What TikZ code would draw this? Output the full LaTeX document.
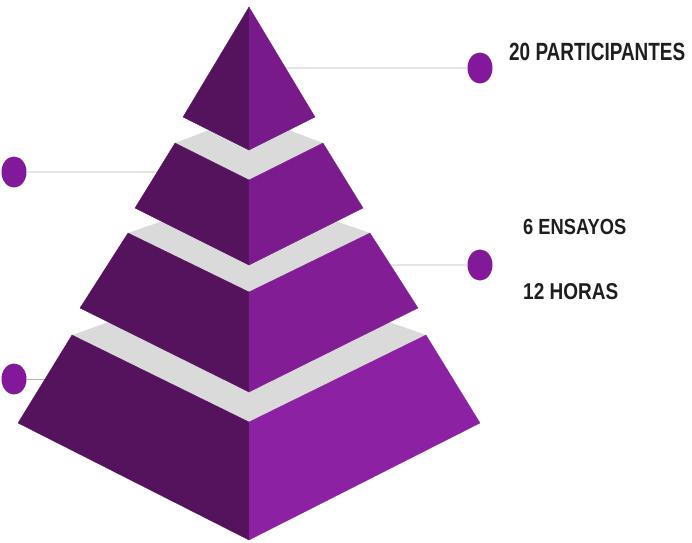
\documentclass[tikz,border=0pt]{standalone}
\usepackage{fontspec}
\usepackage{graphicx}
\setmainfont{Liberation Sans}
\usetikzlibrary{shapes.geometric,calc}
\definecolor{leftface}{HTML}{55135E}
\definecolor{rightA}{HTML}{781A8A}
\definecolor{rightB}{HTML}{7C1B8E}
\definecolor{rightC}{HTML}{831D96}
\definecolor{rightD}{HTML}{8D21A3}
\definecolor{bandgray}{HTML}{DADADA}
\definecolor{dotpurple}{HTML}{82199A}
\definecolor{leadgray}{HTML}{B4B4B4}
\definecolor{textdark}{HTML}{1E1E1E}
\begin{document}
\begin{tikzpicture}[x=1pt,y=-1pt,
  dot/.style={ellipse, fill=dotpurple, minimum width=25pt, minimum height=31pt, inner sep=0pt},
  leader/.style={draw=leadgray, line width=0.9pt},
  lbl/.style={anchor=base west, inner sep=0pt, text=textdark, font=\bfseries},
  band/.style={fill=bandgray},
  lface/.style={fill=leftface, draw=leftface, line width=0.3pt},
  rface/.style={fill=#1, draw=#1, line width=0.3pt}]
\useasboundingbox (0,0) rectangle (692,542);
% ---- coordinates
% tier 1
\coordinate (a1) at (249,7);
\coordinate (l1) at (183,117);
\coordinate (r1) at (315,117);
\coordinate (f1) at (249,150);
% tier 2
\coordinate (tl2) at (175,143);
\coordinate (tr2) at (323,143);
\coordinate (tf2) at (249,180);
\coordinate (tb2) at (249,115);
\coordinate (bl2) at (135,208);
\coordinate (br2) at (363,208);
\coordinate (bf2) at (249,265);
% tier 3
\coordinate (tl3) at (128,233);
\coordinate (tr3) at (370,233);
\coordinate (tf3) at (249,292);
\coordinate (tb3) at (249,191);
\coordinate (bl3) at (80,308);
\coordinate (br3) at (418,308);
\coordinate (bf3) at (249,392);
% tier 4
\coordinate (tl4) at (72,335);
\coordinate (tr4) at (426,335);
\coordinate (tf4) at (249,422);
\coordinate (tb4) at (249,273);
\coordinate (bl4) at (18,423);
\coordinate (br4) at (480,423);
\coordinate (bf4) at (249,540);
% leader ends on the pyramid
\coordinate (e1) at ($(a1)!0.5545!(r1)$);
\coordinate (e2) at ($(tl2)!0.446!(bl2)$);
\coordinate (e3) at ($(tr3)!0.427!(br3)$);
\coordinate (e4) at ($(tl4)!0.5!(bl4)$);
% ---- dots
\node[dot] (d1) at (480,68) {};
\node[dot] (d2) at (14,172) {};
\node[dot] (d3) at (480,265) {};
\node[dot] (d4) at (14,379) {};
% ---- leaders
\draw[leader] (d1.west) -- (e1);
\draw[leader] (d2.east) -- (e2);
\draw[leader] (d3.west) -- (e3);
\draw[leader] (d4.east) -- (e4);
% ---- tier 4
\fill[band] (tl4) -- (tb4) -- (tr4) -- (tf4) -- cycle;
\filldraw[lface] (tl4) -- (tf4) -- (bf4) -- (bl4) -- cycle;
\filldraw[rface=rightD] (tr4) -- (tf4) -- (bf4) -- (br4) -- cycle;
% ---- tier 3
\fill[band] (tl3) -- (tb3) -- (tr3) -- (tf3) -- cycle;
\filldraw[lface] (tl3) -- (tf3) -- (bf3) -- (bl3) -- cycle;
\filldraw[rface=rightC] (tr3) -- (tf3) -- (bf3) -- (br3) -- cycle;
% ---- tier 2
\fill[band] (tl2) -- (tb2) -- (tr2) -- (tf2) -- cycle;
\filldraw[lface] (tl2) -- (tf2) -- (bf2) -- (bl2) -- cycle;
\filldraw[rface=rightB] (tr2) -- (tf2) -- (bf2) -- (br2) -- cycle;
% ---- tier 1
\filldraw[lface] (a1) -- (l1) -- (f1) -- cycle;
\filldraw[rface=rightA] (a1) -- (r1) -- (f1) -- cycle;
% ---- texts
\node[lbl] (txt1) at (509,60.7) {\resizebox{176pt}{17.4pt}{20 PARTICIPANTES}};
\node[lbl] (txt2) at (523,234.3) {\resizebox{103pt}{15.3pt}{6 ENSAYOS}};
\node[lbl] (txt3) at (523,299) {\resizebox{95pt}{16pt}{12 HORAS}};
\end{tikzpicture}
\end{document}
